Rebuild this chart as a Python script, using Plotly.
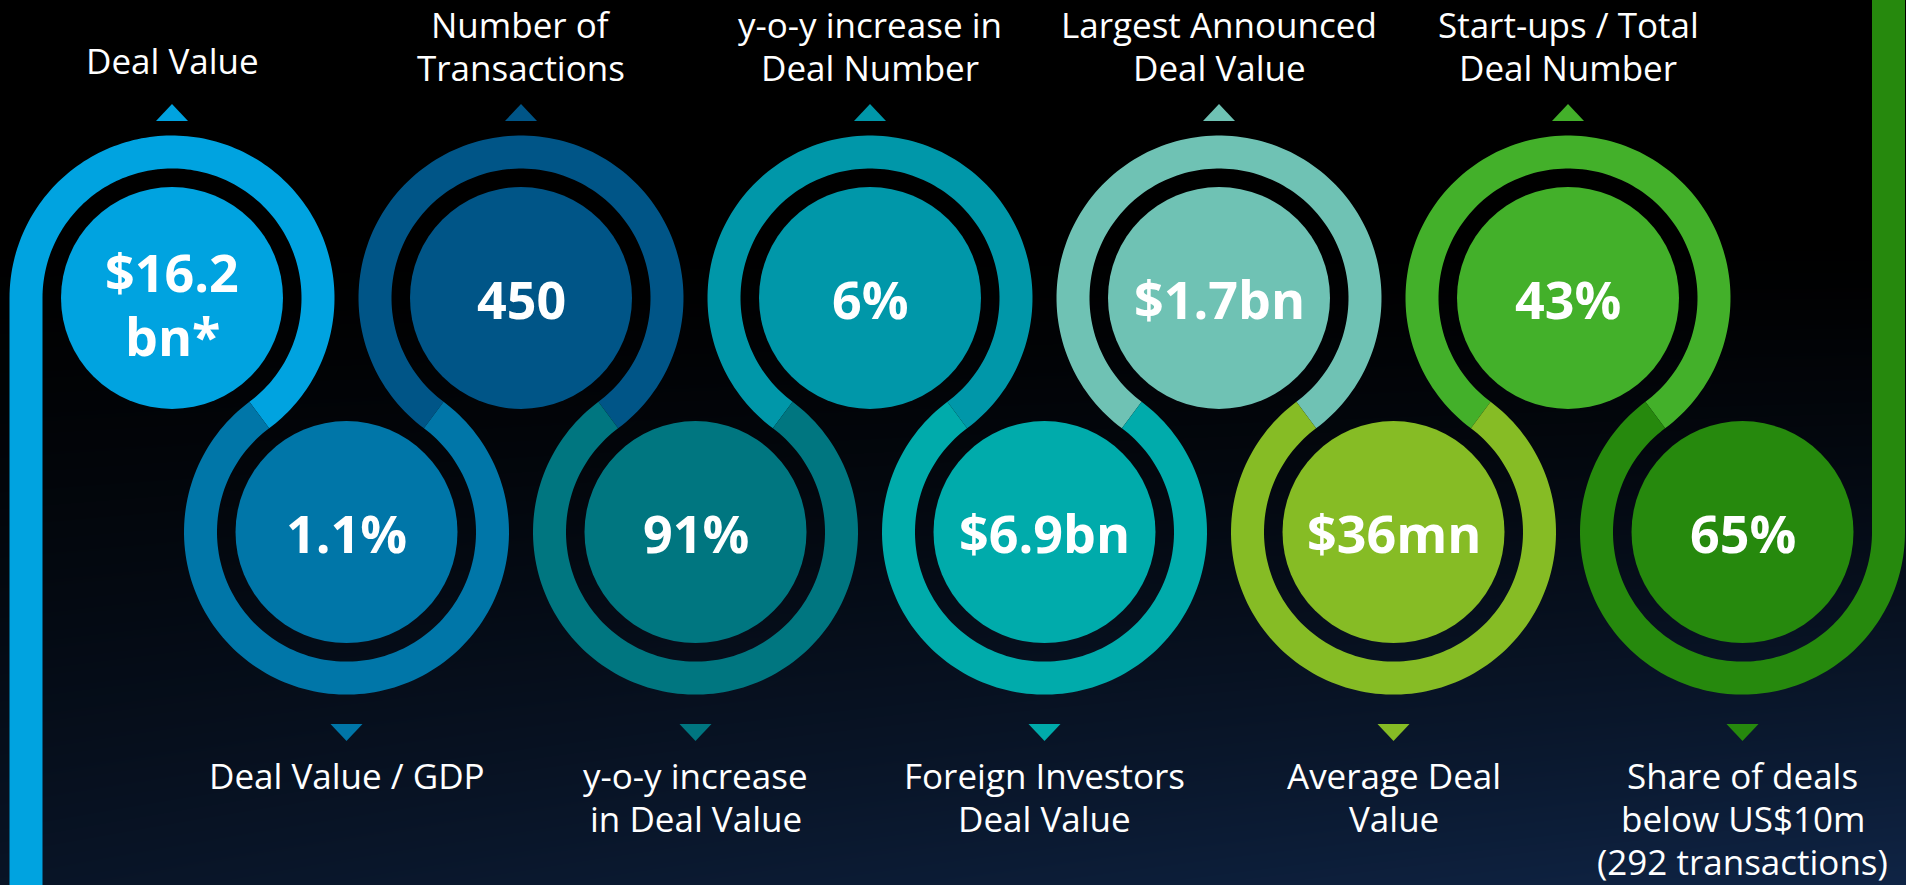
import numpy as np
import plotly.graph_objects as go

# ---------------- data ----------------
top_values = ["$16.2<br>bn*", "450", "6%", "$1.7bn", "43%"]
top_labels = ["Deal Value", "Number of<br>Transactions", "y-o-y increase in<br>Deal Number",
              "Largest Announced<br>Deal Value", "Start-ups / Total<br>Deal Number"]
bottom_values = ["1.1%", "91%", "$6.9bn", "$36mn", "65%"]
bottom_labels = ["Deal Value / GDP", "y-o-y increase<br>in Deal Value", "Foreign Investors<br>Deal Value",
                 "Average Deal<br>Value", "Share of deals<br>below US$10m<br>(292 transactions)"]
top_colors = ["#00A3E0", "#005587", "#0097A9", "#6FC2B4", "#43B02A"]
bottom_colors = ["#0076A8", "#007680", "#00ABAB", "#86BC25", "#26890D"]

# ---------------- layout constants ----------------
W, H = 1906, 885
X0, STEP = 172.0, 349.0
TOP_Y = 298.0
R_FILL, R_IN, R_OUT = 111.0, 129.5, 162.5
R_MID = (R_IN + R_OUT) / 2
DX = STEP / 2
DY = np.sqrt((2 * R_MID) ** 2 - DX ** 2)
BOT_Y = TOP_Y + DY
ANG = np.degrees(np.arctan2(DY, DX))  # angle of center line below horizontal

LAB_SIZE, LAB_GAP = 35, 43
VAL_SIZE, VAL_GAP = 52, 64

n = len(top_values)
top_x = [X0 + i * STEP for i in range(n)]
bot_x = [X0 + DX + i * STEP for i in range(n)]


def arc(cx, cy, r, a0, a1, num=160):
    t = np.radians(np.linspace(a0, a1, num))
    return list(zip(cx + r * np.cos(t), cy - r * np.sin(t)))


def band_path(cx, cy, a0, a1, tail=None):
    pts = arc(cx, cy, R_OUT, a0, a1)
    if tail == "down":
        pts += [(cx - R_OUT, H + 5), (cx - R_IN, H + 5)]
    elif tail == "up":
        pts += [(cx + R_OUT, -5), (cx + R_IN, -5)]
    pts += arc(cx, cy, R_IN, a1, a0)
    return "M " + " L ".join(f"{x:.2f},{y:.2f}" for x, y in pts) + " Z"


fig = go.Figure()

# background gradient (black at top -> dark navy at bottom)
gx = np.linspace(0, W, 25)
gy = np.linspace(0, H, 40)
GX, GY = np.meshgrid(gx, gy)
tv = np.clip((GY - 230) / (H - 230), 0, 1) ** 1.4 * (0.55 + 0.45 * GX / W)
fig.add_trace(go.Heatmap(x=gx, y=gy, z=tv, zmin=0, zmax=1, zsmooth="best",
                         colorscale=[[0, "#000000"], [1, "#0f2445"]],
                         showscale=False, hoverinfo="skip"))

shapes = []
# rings
for i in range(n):
    a0, a1 = -ANG, 180 + ANG
    tail = None
    if i == 0:
        a1, tail = 180, "down"
    shapes.append(dict(type="path", path=band_path(top_x[i], TOP_Y, a0, a1, tail),
                       fillcolor=top_colors[i], line=dict(width=0), layer="above"))
for i in range(n):
    a0, a1 = 180 - ANG, 360 + ANG
    tail = None
    if i == n - 1:
        a1, tail = 360, "up"
    shapes.append(dict(type="path", path=band_path(bot_x[i], BOT_Y, a0, a1, tail),
                       fillcolor=bottom_colors[i], line=dict(width=0), layer="above"))

# inner filled circles
for cx, cy, col in [(x, TOP_Y, c) for x, c in zip(top_x, top_colors)] + \
                   [(x, BOT_Y, c) for x, c in zip(bot_x, bottom_colors)]:
    shapes.append(dict(type="circle", x0=cx - R_FILL, x1=cx + R_FILL, y0=cy - R_FILL, y1=cy + R_FILL,
                       fillcolor=col, line=dict(width=0), layer="above"))

# pointer triangles
TRI_HW = 16
for cx, col in zip(top_x, top_colors):
    shapes.append(dict(type="path",
                       path=f"M {cx - TRI_HW},121 L {cx},104 L {cx + TRI_HW},121 Z",
                       fillcolor=col, line=dict(width=0), layer="above"))
for cx, col in zip(bot_x, bottom_colors):
    shapes.append(dict(type="path",
                       path=f"M {cx - TRI_HW},724 L {cx},741 L {cx + TRI_HW},724 Z",
                       fillcolor=col, line=dict(width=0), layer="above"))

annotations = []
val_font = dict(family="Open Sans", size=VAL_SIZE, color="white", weight="bold")
lab_font = dict(family="Open Sans", size=LAB_SIZE, color="white")


def add_lines(cx, first_y, text, font, gap):
    for j, line in enumerate(text.split("<br>")):
        annotations.append(dict(x=cx, y=first_y + j * gap, text=line, showarrow=False, font=font,
                                xanchor="center", yanchor="middle"))


for cx, v in zip(top_x, top_values):
    nl = v.count("<br>") + 1
    add_lines(cx, TOP_Y - (nl - 1) * VAL_GAP / 2 + (nl - 1) * 5, v, val_font, VAL_GAP)
for cx, v in zip(bot_x, bottom_values):
    add_lines(cx, BOT_Y, v, val_font, VAL_GAP)
for cx, lab in zip(top_x, top_labels):
    nl = lab.count("<br>") + 1
    add_lines(cx, 24.5 if nl > 1 else 60.5, lab, lab_font, LAB_GAP)
for cx, lab in zip(bot_x, bottom_labels):
    add_lines(cx, 775.5, lab, lab_font, LAB_GAP)

fig.update_layout(
    width=W, height=H, margin=dict(l=0, r=0, t=0, b=0),
    paper_bgcolor="#000000", plot_bgcolor="#000000",
    xaxis=dict(range=[0, W], visible=False, fixedrange=True),
    yaxis=dict(range=[H, 0], visible=False, fixedrange=True),
    shapes=shapes, annotations=annotations, showlegend=False,
)

fig.write_html("out.html", config={"displayModeBar": False},
               post_script="document.body.style.margin='0';document.body.style.overflow='hidden';")
